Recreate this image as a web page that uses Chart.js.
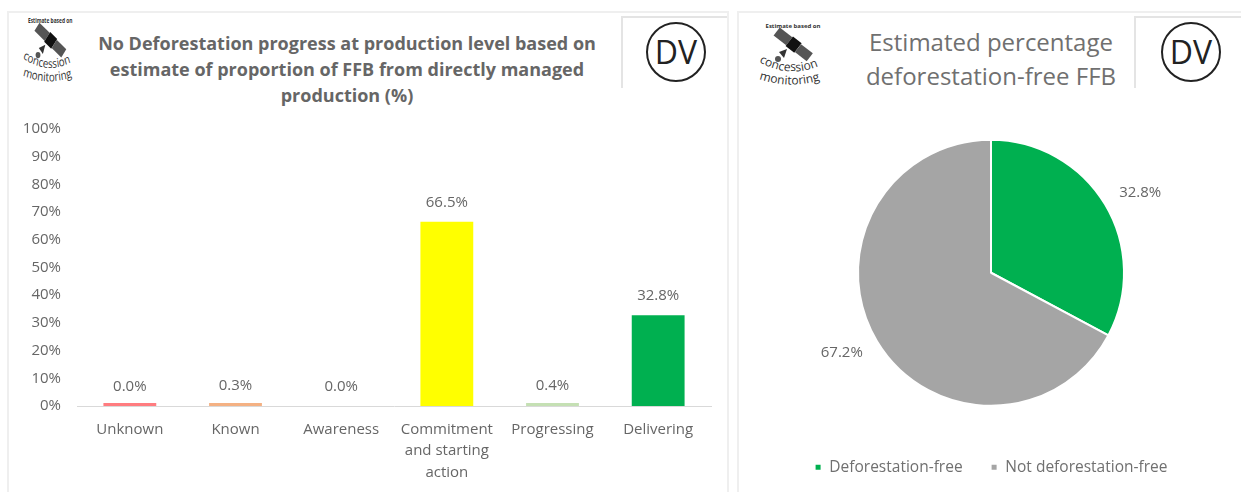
<!DOCTYPE html>
<html>
<head>
<meta charset="utf-8">
<script src="https://cdn.jsdelivr.net/npm/chart.js@4"></script>
<style>
	html, body { margin: 0; padding: 0; background: #fff; overflow: hidden; }
	body { width: 1241px; height: 492px; position: relative; font-family: "Open Sans", sans-serif; }
	.panel { position: absolute; top: 11px; height: 481px; box-sizing: border-box; border: 2px solid #efefef; border-bottom: none; }
	#panel-left { left: 7px; width: 722px; }
	#panel-right { left: 737px; width: 504px; border-right: none; }
	canvas { position: absolute; }
	.title { position: absolute; text-align: center; color: #595959; }
	#title-left { left: 67px; width: 560px; top: 30px; font-size: 18px; line-height: 26px; font-weight: 700; color: #666; }
	#title-right { left: 841px; width: 300px; top: 25px; font-size: 24px; line-height: 34px; color: #707070; }
	.dv-box { position: absolute; top: 16px; height: 72px; box-sizing: border-box; border-left: 2px solid #e4e4e4; border-top: 2px solid #e4e4e4; }
	.dv { position: absolute; top: 22px; width: 60px; height: 60px; box-sizing: border-box; border: 2px solid #222; border-radius: 50%; text-align: center; font-size: 32px; line-height: 56px; color: #222; }
	.logo { position: absolute; }
</style>
</head>
<body>
<div class="panel" id="panel-left"></div>
<div class="panel" id="panel-right"></div>

<svg width="0" height="0" style="position:absolute">
	<symbol id="logo" viewBox="0 0 74 70" preserveAspectRatio="none">
		<text x="36" y="7" text-anchor="middle" font-family="Open Sans" font-weight="700" font-size="6" fill="#333">Estimate based on</text>
		<g transform="translate(37 24) rotate(38)">
			<rect x="-22" y="-5" width="16" height="10" fill="#555"></rect>
			<rect x="-6" y="-6" width="11" height="12" fill="#111"></rect>
			<rect x="5" y="-5" width="15" height="10" fill="#555"></rect>
		</g>
		<path d="M22 31 l8 -3 l-3 9 z" fill="#333"></path>
		<circle cx="21" cy="38" r="3" fill="#555"></circle>
		<path id="arc-a" d="M2 41 Q36 60 70 41" fill="none"></path>
		<path id="arc-b" d="M2 58 Q38 70 72 56" fill="none"></path>
		<text font-family="Open Sans" font-size="12" fill="#333"><textPath href="#arc-a">concession</textPath></text>
		<text font-family="Open Sans" font-size="12" fill="#333"><textPath href="#arc-b">monitoring</textPath></text>
	</symbol>
</svg>
<svg class="logo" style="left:21px;top:16px" width="60" height="72"><use href="#logo" width="60" height="72"></use></svg>
<svg class="logo" style="left:757px;top:21px" width="74" height="70"><use href="#logo" width="74" height="70"></use></svg>

<div class="dv-box" style="left:621px;width:106px"></div>
<div class="dv-box" style="left:1134px;width:107px"></div>
<div class="dv" style="left:646px">DV</div>
<div class="dv" style="left:1161px">DV</div>

<div class="title" id="title-left">No Deforestation progress at production level based on<br>estimate of proportion of FFB from directly managed<br>production (%)</div>
<div class="title" id="title-right">Estimated percentage<br>deforestation-free FFB</div>

<canvas id="bar-canvas" width="722" height="480" style="left:7px;top:12px;width:722px;height:480px"></canvas>
<canvas id="pie-canvas" width="504" height="480" style="left:737px;top:12px;width:504px;height:480px"></canvas>

<script>
const stageLabels = ["Unknown", "Known", "Awareness", ["Commitment", "and starting", "action"], "Progressing", "Delivering"];
const stageValues = [0.0, 0.3, 0.0, 66.5, 0.4, 32.8];
const stageColors = ["#ff7c80", "#f4b183", "transparent", "#ffff00", "#c5e0b4", "#00b050"];
const yTicks = [0, 10, 20, 30, 40, 50, 60, 70, 80, 90, 100];

const pieLabels = ["Deforestation-free", "Not deforestation-free"];
const pieValues = [32.8, 67.2];
const pieColors = ["#00b050", "#a5a5a5"];

Chart.defaults.font.family = "Open Sans";
Chart.defaults.font.size = 15;
Chart.defaults.color = "#666666";
Chart.defaults.animation = false;

// value labels above the bars
const barLabels = {
	id: "barLabels",
	afterDatasetsDraw(chart) {
		const ctx = chart.ctx;
		ctx.save();
		ctx.font = "15px 'Open Sans'";
		ctx.fillStyle = "#666666";
		ctx.textAlign = "center";
		ctx.textBaseline = "middle";
		chart.getDatasetMeta(0).data.forEach((bar, i) => {
			const top = chart.scales.y.getPixelForValue(stageValues[i]);
			ctx.fillText(stageValues[i].toFixed(1) + "%", bar.x, top - 19);
		});
		ctx.restore();
	},
};

// value labels outside the slices
const pieValueLabels = {
	id: "pieValueLabels",
	afterDatasetsDraw(chart) {
		const ctx = chart.ctx;
		ctx.save();
		ctx.font = "15px 'Open Sans'";
		ctx.fillStyle = "#666666";
		ctx.textAlign = "center";
		ctx.textBaseline = "middle";
		chart.getDatasetMeta(0).data.forEach((arc, i) => {
			const mid = (arc.startAngle + arc.endAngle) / 2;
			const x = arc.x + Math.cos(mid) * (arc.outerRadius + 41);
			const y = arc.y + Math.sin(mid) * (arc.outerRadius + 22);
			ctx.fillText(pieValues[i].toFixed(1) + "%", x, y);
		});
		ctx.restore();
	},
};

new Chart(document.getElementById("bar-canvas"), {
	type: "bar",
	data: {
		labels: stageLabels,
		datasets: [
			{
				data: stageValues,
				backgroundColor: stageColors,
				categoryPercentage: 0.5,
				barPercentage: 1,
				minBarLength: 3,
			},
		],
	},
	options: {
		responsive: false,
		layout: { padding: { top: 117, right: 18, left: 0, bottom: 0 } },
		plugins: {
			legend: { display: false },
			tooltip: { enabled: false },
		},
		scales: {
			x: {
				grid: { display: false },
				border: { color: "#d9d9d9", width: 1 },
				ticks: {
					maxRotation: 0,
					autoSkip: false,
					padding: 5,
					font: { size: 15, lineHeight: 1.42 },
				},
				afterFit(scale) {
					scale.height = 86;
				},
			},
			y: {
				min: 0,
				max: 100,
				afterBuildTicks(scale) {
					scale.ticks = yTicks.map((v) => ({ value: v }));
				},
				grid: { display: false },
				border: { display: false },
				ticks: { padding: 8, callback: (v) => v + "%" },
				afterFit(scale) {
					scale.width = 70;
				},
			},
		},
	},
	plugins: [barLabels],
});

new Chart(document.getElementById("pie-canvas"), {
	type: "pie",
	data: {
		labels: pieLabels,
		datasets: [
			{
				data: pieValues,
				backgroundColor: pieColors,
				borderColor: "#ffffff",
				borderWidth: 2,
				radius: 133,
			},
		],
	},
	options: {
		responsive: false,
		layout: { padding: { top: 102, bottom: 7, left: 4, right: 0 } },
		plugins: {
			tooltip: { enabled: false },
			legend: {
				position: "bottom",
				labels: {
					usePointStyle: true,
					pointStyle: "rect",
					boxWidth: 7,
					boxHeight: 7,
					padding: 28,
					color: "#707070",
					font: { size: 15.5 },
				},
			},
		},
	},
	plugins: [pieValueLabels],
});
</script>
</body>
</html>
